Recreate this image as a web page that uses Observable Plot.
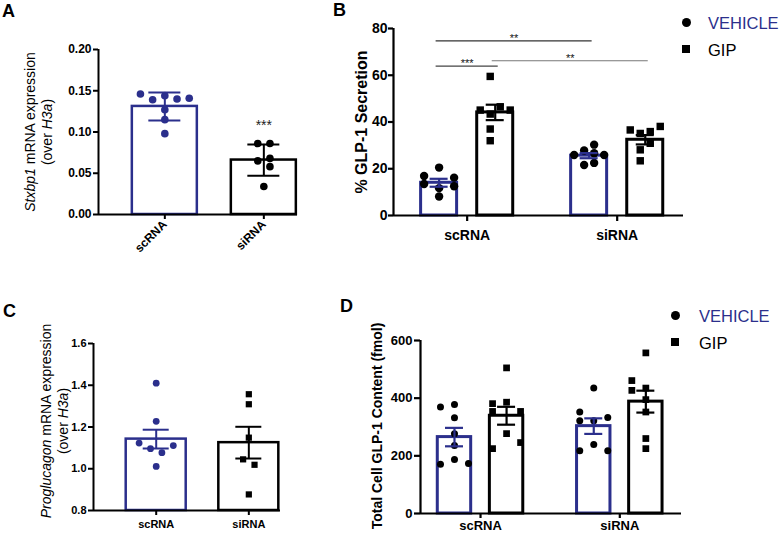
<!DOCTYPE html>
<html><head><meta charset="utf-8">
<script src="https://cdn.jsdelivr.net/npm/d3@7"></script>
<script src="https://cdn.jsdelivr.net/npm/@observablehq/plot@0.6"></script>
<style>
body{margin:0;background:#fff;}
#fig{position:relative;width:780px;height:536px;overflow:hidden;font-family:"Liberation Sans",Arial,sans-serif;background:#fff;color:#000}
.panel{position:absolute}
.panel svg{overflow:visible;display:block}
.ylab{position:absolute;white-space:nowrap;text-align:center;transform:translate(-50%,-50%) rotate(-90deg);}
.letter{position:absolute;font-weight:bold;font-size:18px;line-height:18px}
.leg{position:absolute;font-size:16.5px;line-height:16.5px;white-space:nowrap}
.sym{position:absolute;background:#000}
</style></head>
<body><div id="fig"></div>
<script>
// ---------- data ----------
const groups = ["scRNA", "siRNA"];
const treatments = ["VEHICLE", "GIP"];

// Panel A: Stxbp1 mRNA expression (over H3a), mean ± SD
const aMean = [0.131, 0.066];
const aErr = [0.017, 0.019];
const aScRNA = [0.146, 0.139, 0.144, 0.140, 0.141, 0.127, 0.115, 0.098];
const aScRNASlot = [-2, -1, 0, 1, 2, 0, 0, 0];
const aSiRNA = [0.086, 0.086, 0.065, 0.068, 0.058, 0.034];
const aSiRNASlot = [-0.5, 0.5, -0.5, 0.5, 0.5, 0];
const aStars = ["", "***"];
const aYTicks = [0, 0.05, 0.10, 0.15, 0.20];

// Panel B: % GLP-1 secretion, mean ± SEM
const bVehicleMean = [14.0, 25.6];
const bVehicleErr = [1.7, 1.1];
const bGipMean = [44.1, 32.4];
const bGipErr = [3.3, 2.0];
const bScVehicle = [20.5, 16.9, 16.2, 13.5, 12.5, 11.7, 8.1];
const bScVehicleSlot = [0, -3, 3, -3, 3, 0, 0];
const bScGip = [59.5, 46.5, 45.1, 45.1, 43.4, 37.0, 32.0];
const bScGipSlot = [-1, 1, -3, 3, -1, -1, -1];
const bSiVehicle = [30.3, 27.8, 26.6, 25.9, 25.9, 21.6, 22.5];
const bSiVehicleSlot = [1, -1, 1, -3, 3, -1, 1];
const bSiGip = [36.6, 35.1, 35.9, 38.1, 30.9, 28.1, 23.4];
const bSiGipSlot = [-3, -1, 1, 3, 1, -1, -1];
const bYTicks = [0, 20, 40, 60, 80];
const bSigFrom = [["scRNA", "VEHICLE"], ["scRNA", "VEHICLE"], ["scRNA", "GIP"]];
const bSigTo = [["siRNA", "VEHICLE"], ["scRNA", "GIP"], ["siRNA", "GIP"]];
const bSigY = [74.7, 63.9, 66.2];
const bSigLabel = ["**", "***", "**"];
const bSigShade = ["#333", "#444", "#777"];

// Panel C: Proglucagon mRNA expression (over H3a), mean ± SEM
const cMean = [1.142, 1.125];
const cErr = [0.045, 0.076];
const cScRNA = [1.41, 1.227, 1.123, 1.096, 1.077, 1.111, 1.011];
const cScRNASlot = [0, 0, -3, -1, 1, 3, 0];
const cSiRNA = [1.357, 1.309, 1.149, 1.045, 1.019, 0.877];
const cSiRNASlot = [0, 0, 0, -1, 1, 0];
const cYTicks = [0.8, 1.0, 1.2, 1.4, 1.6];

// Panel D: Total cell GLP-1 content (fmol), mean ± SEM
const dVehicleMean = [265, 303];
const dVehicleErr = [32, 27];
const dGipMean = [339, 388];
const dGipErr = [31, 38];
const dScVehicle = [369, 378, 332, 277, 236, 187, 171, 173];
const dScVehicleSlot = [-2, 0, 0, 0, 0, 0, -2, 2];
const dScGip = [505, 381, 386, 354, 354, 277, 225, 246];
const dScGipSlot = [0, -2, 0, -2, 2, 0, -2, 2];
const dSiVehicle = [435, 352, 322, 322, 333, 239, 218, 218];
const dSiVehicleSlot = [0, -2, -2, 0, 2, 0, -2, 2];
const dSiGip = [557, 461, 427, 435, 395, 352, 260, 225];
const dSiGipSlot = [0, -2, -2, 0, 0, 0, 0, 0];
const dYTicks = [0, 200, 400, 600];

// ---------- styling ----------
const NAVY = "#2b2f8c";
const BLACK = "#000";
const FONT = "Liberation Sans, Arial, sans-serif";
const tOff = {VEHICLE: -0.187, GIP: 0.187};

function panel(cfg) {
  const {width, height, mL, mR, mT, mB, xDomain, yDomain} = cfg;
  const pxPerUnit = (width - mL - mR) / (xDomain[1] - xDomain[0]);
  const u = px => px / pxPerUnit;
  const rects = cfg.bars.map(b => ({x1: b.x - u(cfg.barHalfPx), x2: b.x + u(cfg.barHalfPx), y1: yDomain[0], y2: b.mean, color: b.color}));
  const errs = cfg.bars.map(b => ({x: b.x, lo: b.mean - b.err, hi: b.mean + b.err, color: b.color}));
  const pts = cfg.bars.flatMap(b => b.values.map((v, i) => ({
    x: b.x + u(b.slots[i] * cfg.slotPx), y: v, symbol: b.symbol,
    color: cfg.blackDots ? BLACK : b.color
  })));
  const cap = u(cfg.capPx);
  const marks = [
    Plot.rect(rects, {x1: "x1", x2: "x2", y1: "y1", y2: "y2", fill: "white", stroke: "color", strokeWidth: cfg.barStroke}),
    Plot.dot(pts.filter(p => p.symbol === "circle"), {x: "x", y: "y", fill: "color", r: cfg.rCircle, symbol: "circle"}),
    Plot.dot(pts.filter(p => p.symbol === "square"), {x: "x", y: "y", fill: "color", r: cfg.rSquare, symbol: "square"}),
    Plot.ruleX(errs, {x: "x", y1: "lo", y2: "hi", stroke: "color", strokeWidth: cfg.errStroke}),
    Plot.ruleY(errs, {y: "hi", x1: d => d.x - cap, x2: d => d.x + cap, stroke: "color", strokeWidth: cfg.errStroke}),
    Plot.ruleY(errs, {y: "lo", x1: d => d.x - cap, x2: d => d.x + cap, stroke: "color", strokeWidth: cfg.errStroke}),
    Plot.ruleY([yDomain[0]], {stroke: "black", strokeWidth: cfg.axisStroke}),
    Plot.ruleX([xDomain[0]], {stroke: "black", strokeWidth: cfg.axisStroke}),
    Plot.axisY({ticks: cfg.yTicks, tickFormat: cfg.yFormat, tickSize: cfg.yTickSize, tickPadding: cfg.yTickPadding,
      fontSize: cfg.yFont, fontWeight: "bold", strokeWidth: cfg.axisStroke, label: null}),
    Plot.axisX({ticks: [0, 1], tickFormat: i => groups[i], tickSize: cfg.xTickSize, tickPadding: cfg.xTickPadding,
      tickRotate: cfg.xRotate || 0, fontSize: cfg.xFont, fontWeight: "bold", strokeWidth: cfg.axisStroke, label: null}),
    ...(cfg.extra ? cfg.extra(u) : [])
  ];
  const svg = Plot.plot({
    width, height, marginLeft: mL, marginRight: mR, marginTop: mT, marginBottom: mB,
    x: {domain: xDomain, label: null},
    y: {domain: yDomain, label: null},
    style: {fontFamily: FONT, fontWeight: "bold", fontSize: cfg.yFont + "px", background: "none", color: "black", overflow: "visible"},
    marks
  });
  const div = document.createElement("div");
  div.className = "panel";
  div.style.left = cfg.left + "px";
  div.style.top = cfg.top + "px";
  div.appendChild(svg);
  document.getElementById("fig").appendChild(div);
}

// ---------- Panel A ----------
panel({
  left: 0, top: 0, width: 300, height: 265, mL: 98, mR: 3, mT: 49, mB: 51,
  xDomain: [-0.670, 1.340], yDomain: [0, 0.2],
  yTicks: aYTicks, yFormat: d3.format(".2f"), yTickSize: 5, yTickPadding: 2, yFont: 12,
  xTickSize: 5, xTickPadding: 3, xFont: 12, xRotate: -45,
  barHalfPx: 32.5, capPx: 16, slotPx: 12.2, rCircle: 3.8, rSquare: 4,
  barStroke: 2.5, errStroke: 2, axisStroke: 2,
  bars: [
    {x: 0, mean: aMean[0], err: aErr[0], color: NAVY, symbol: "circle", values: aScRNA, slots: aScRNASlot},
    {x: 1, mean: aMean[1], err: aErr[1], color: BLACK, symbol: "circle", values: aSiRNA, slots: aSiRNASlot}
  ],
  extra: () => [
    Plot.text(aStars.map((s, i) => ({s, i})).filter(d => d.s), {
      x: "i", y: d => aMean[d.i] + aErr[d.i] + 0.2 * (19 / 165), text: "s",
      fontSize: 14, fontWeight: "normal", letterSpacing: 0.5, fill: "#222", lineAnchor: "middle"
    })
  ]
});

// ---------- Panel B ----------
const bBars = [
  {x: 0 + tOff.VEHICLE, mean: bVehicleMean[0], err: bVehicleErr[0], color: NAVY, symbol: "circle", values: bScVehicle, slots: bScVehicleSlot},
  {x: 0 + tOff.GIP, mean: bGipMean[0], err: bGipErr[0], color: BLACK, symbol: "square", values: bScGip, slots: bScGipSlot},
  {x: 1 + tOff.VEHICLE, mean: bVehicleMean[1], err: bVehicleErr[1], color: NAVY, symbol: "circle", values: bSiVehicle, slots: bSiVehicleSlot},
  {x: 1 + tOff.GIP, mean: bGipMean[1], err: bGipErr[1], color: BLACK, symbol: "square", values: bSiGip, slots: bSiGipSlot}
];
const posOf = ([g, t]) => groups.indexOf(g) + tOff[t];
const bSig = bSigLabel.map((label, i) => ({label, x1: posOf(bSigFrom[i]), x2: posOf(bSigTo[i]), y: bSigY[i], shade: bSigShade[i]}));

panel({
  left: 300, top: 0, width: 400, height: 250, mL: 93, mR: 17, mT: 28, mB: 35,
  xDomain: [-0.491, 1.442], yDomain: [0, 80], blackDots: true,
  yTicks: bYTicks, yTickSize: 5, yTickPadding: 1, yFont: 14,
  xTickSize: 6, xTickPadding: 9, xFont: 14,
  barHalfPx: 18, capPx: 9, slotPx: 5, rCircle: 4.2, rSquare: 4.2,
  barStroke: 3, errStroke: 2.2, axisStroke: 2.2,
  bars: bBars,
  extra: (u) => {
    const yPerPx = 80 / 187;
    return [
      Plot.ruleY(bSig, {y: "y", x1: d => d.x1 - u(3), x2: d => d.x2 + u(3), stroke: "shade", strokeWidth: 1.2}),
      Plot.text(bSig, {x: d => (d.x1 + d.x2) / 2, y: d => d.y + 2.4 * yPerPx, text: "label",
        fontSize: 11, fontWeight: "normal", letterSpacing: 2, fill: "#111", lineAnchor: "middle"})
    ];
  }
});

// ---------- Panel C ----------
panel({
  left: 0, top: 270, width: 300, height: 266, mL: 93, mR: 20, mT: 73, mB: 26,
  xDomain: [-0.677, 1.342], yDomain: [0.8, 1.6],
  yTicks: cYTicks, yFormat: d3.format(".1f"), yTickSize: 5, yTickPadding: 2, yFont: 11,
  xTickSize: 5, xTickPadding: 5, xFont: 11,
  barHalfPx: 30, capPx: 13, slotPx: 5.7, rCircle: 3.4, rSquare: 3.5,
  barStroke: 2.5, errStroke: 2, axisStroke: 2,
  bars: [
    {x: 0, mean: cMean[0], err: cErr[0], color: NAVY, symbol: "circle", values: cScRNA, slots: cScRNASlot},
    {x: 1, mean: cMean[1], err: cErr[1], color: BLACK, symbol: "square", values: cSiRNA, slots: cSiRNASlot}
  ]
});

// ---------- Panel D ----------
const dBars = [
  {x: 0 + tOff.VEHICLE, mean: dVehicleMean[0], err: dVehicleErr[0], color: NAVY, symbol: "circle", values: dScVehicle, slots: dScVehicleSlot},
  {x: 0 + tOff.GIP, mean: dGipMean[0], err: dGipErr[0], color: BLACK, symbol: "square", values: dScGip, slots: dScGipSlot},
  {x: 1 + tOff.VEHICLE, mean: dVehicleMean[1], err: dVehicleErr[1], color: NAVY, symbol: "circle", values: dSiVehicle, slots: dSiVehicleSlot},
  {x: 1 + tOff.GIP, mean: dGipMean[1], err: dGipErr[1], color: BLACK, symbol: "square", values: dSiGip, slots: dSiGipSlot}
];
panel({
  left: 300, top: 270, width: 400, height: 266, mL: 120, mR: 19, mT: 70, mB: 23,
  xDomain: [-0.431, 1.443], yDomain: [0, 600], blackDots: true,
  yTicks: dYTicks, yTickSize: 6, yTickPadding: 2, yFont: 13,
  xTickSize: 5, xTickPadding: 2, xFont: 13,
  barHalfPx: 16.7, capPx: 9, slotPx: 7, rCircle: 3.5, rSquare: 3.8,
  barStroke: 3, errStroke: 2.2, axisStroke: 2.2,
  bars: dBars
});

// ---------- text overlays ----------
const fig = document.getElementById("fig");
function add(html, cls, style) {
  const el = document.createElement("div");
  el.className = cls;
  el.innerHTML = html;
  Object.assign(el.style, style);
  fig.appendChild(el);
  return el;
}
add("A", "letter", {left: "2px", top: "2px"});
add("B", "letter", {left: "333px", top: "1px"});
add("C", "letter", {left: "3px", top: "301.5px"});
add("D", "letter", {left: "340px", top: "296.5px"});

add("<i>Stxbp1</i> mRNA expression<br>(over <i>H3a</i>)", "ylab", {left: "38.5px", top: "132px", fontSize: "14px", lineHeight: "17px"});
add("% GLP-1 Secretion", "ylab", {left: "362px", top: "122px", fontSize: "16px", fontWeight: "bold", lineHeight: "16px"});
add("<i>Proglucagon</i> mRNA expression<br>(over <i>H3a</i>)", "ylab", {left: "53.5px", top: "421px", fontSize: "14px", lineHeight: "16.5px"});
add("Total Cell GLP-1 Content (fmol)", "ylab", {left: "377px", top: "426px", fontSize: "14px", fontWeight: "bold", lineHeight: "14px"});

function legend(cx, cy1, cy2, tx) {
  add("", "sym", {left: (cx - 4.5) + "px", top: (cy1 - 4.5) + "px", width: "9px", height: "9px", borderRadius: "50%"});
  add("", "sym", {left: (cx - 4) + "px", top: (cy2 - 4) + "px", width: "8px", height: "8px"});
  add(treatments[0], "leg", {left: tx + "px", top: (cy1 - 7.5) + "px", color: NAVY});
  add(treatments[1], "leg", {left: tx + "px", top: (cy2 - 7.5) + "px", color: BLACK});
}
legend(686, 22, 49, 708);
legend(675, 315, 342, 699);
</script></body></html>
